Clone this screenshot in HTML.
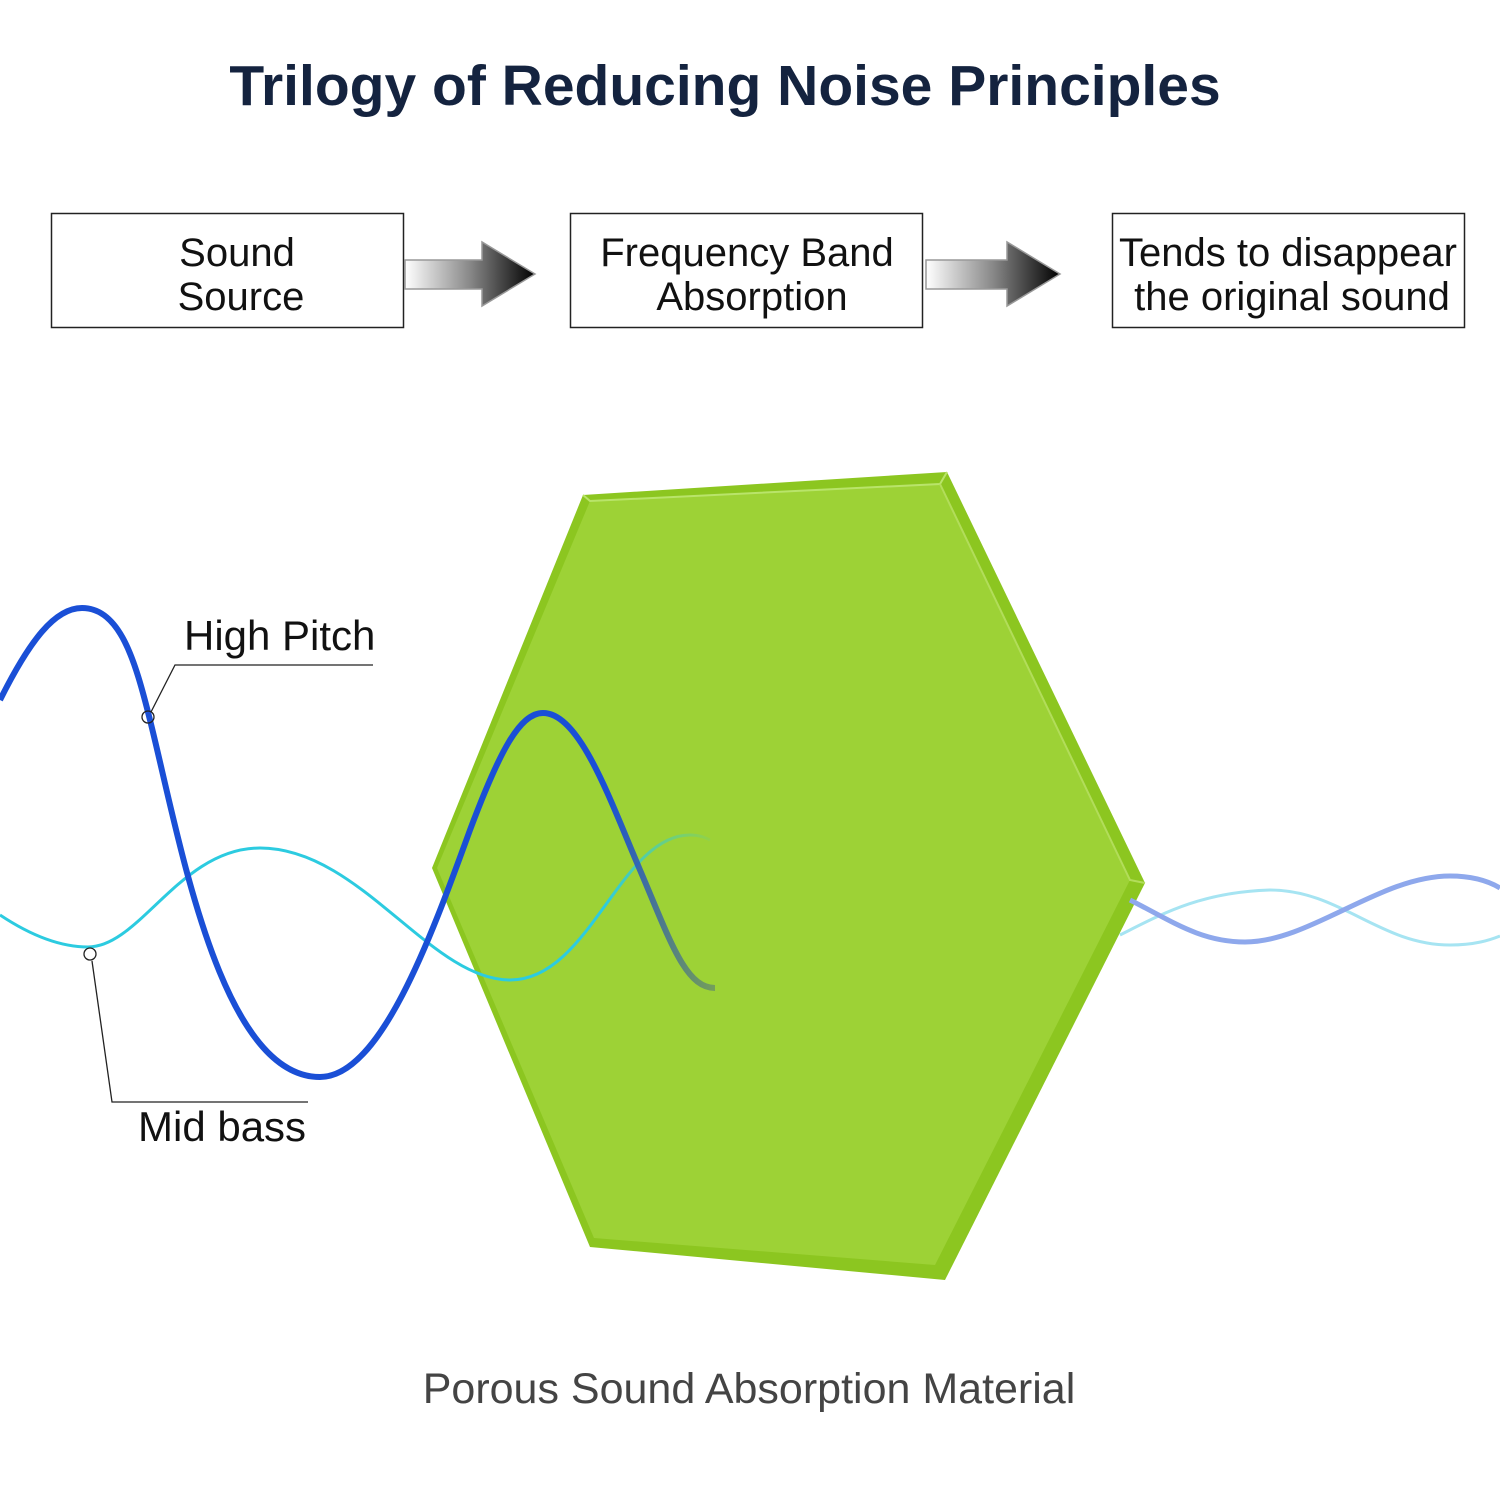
<!DOCTYPE html>
<html><head><meta charset="utf-8"><style>
html,body{margin:0;padding:0;background:#fff}
body{width:1500px;height:1500px;position:relative;overflow:hidden;font-family:"Liberation Sans",Arial,sans-serif}
</style></head><body>
<svg width="1500" height="1500" viewBox="0 0 1500 1500" xmlns="http://www.w3.org/2000/svg" style="position:absolute;left:0;top:0">
<defs>
<linearGradient id="ag" x1="0" x2="1" y1="0" y2="0">
<stop offset="0" stop-color="#fff"/><stop offset="0.5" stop-color="#888"/><stop offset="1" stop-color="#000"/>
</linearGradient>
<linearGradient id="bfade" gradientUnits="userSpaceOnUse" x1="0" x2="715" y1="0" y2="0">
<stop offset="0" stop-color="#1a4fd6"/><stop offset="0.85" stop-color="#1a4fd6"/><stop offset="1" stop-color="#4a6a80" stop-opacity="0.5"/>
</linearGradient>
<linearGradient id="cfade" gradientUnits="userSpaceOnUse" x1="0" x2="710" y1="0" y2="0">
<stop offset="0" stop-color="#2ccbe0"/><stop offset="0.85" stop-color="#2ccbe0"/><stop offset="1" stop-color="#2ccbe0" stop-opacity="0.1"/>
</linearGradient>
</defs>
<text x="725" y="105" text-anchor="middle" font-size="57" font-weight="bold" fill="#14233f" font-family="Liberation Sans, Arial, sans-serif">Trilogy of Reducing Noise Principles</text>

<rect x="51.5" y="213.5" width="352" height="114" fill="#fff" stroke="#222" stroke-width="1.5"/>
<rect x="570.5" y="213.5" width="352" height="114" fill="#fff" stroke="#222" stroke-width="1.5"/>
<rect x="1112.5" y="213.5" width="352" height="114" fill="#fff" stroke="#222" stroke-width="1.5"/>
<g font-size="40" fill="#111" text-anchor="middle">
<text x="237" y="266">Sound</text><text x="241" y="310">Source</text>
<text x="747" y="266">Frequency Band</text><text x="752" y="310">Absorption</text>
<text x="1288" y="266">Tends to disappear</text><text x="1292" y="310">the original sound</text>
</g>
<g stroke="#999" stroke-width="1.5">
<polygon points="405,260 482,260 482,242 535,274 482,306 482,289 405,289" fill="url(#ag)"/>
<polygon points="926,260 1007,260 1007,242 1060,274 1007,306 1007,289 926,289" fill="url(#ag)"/>
</g>

<polygon points="583,495 947,472 1145,883 945,1280 590,1247 432,868" fill="#8cc620"/>
<polygon points="590,501 940,484 1130,880 935,1265 594,1238 437,868" fill="#9dd236"/>
<polyline points="583,495 590,501 940,484 947,472" fill="none" stroke="#b9e46a" stroke-width="2"/>
<polyline points="940,484 1130,880 1145,883" fill="none" stroke="#b2dd5a" stroke-width="2"/>

<path d="M1120,935 C1160,915 1200,892 1270,890 C1340,890 1380,945 1450,945 C1475,945 1490,940 1500,936" fill="none" stroke="#a6e4f2" stroke-width="3"/>
<path d="M1130,900 C1170,920 1200,942 1245,942 C1310,942 1380,876 1450,876 C1475,876 1490,882 1500,888" fill="none" stroke="#8ea8ec" stroke-width="5"/>

<path d="M0,915 C30,935 60,947 88,947 C140,947 180,848 260,848 C360,848 430,980 510,980 C590,980 620,835 690,835 C700,835 706,838 710,840" fill="none" stroke="url(#cfade)" stroke-width="3"/>
<path d="M0,700 C30,640 55,608 82,608 C120,608 135,660 150,720 C180,840 220,1077 320,1077 C380,1077 430,940 470,830 C500,750 520,713 543,713 C580,713 610,800 640,870 C670,940 685,988 715,988" fill="none" stroke="url(#bfade)" stroke-width="6"/>

<g fill="none" stroke="#222" stroke-width="1.3">
<polyline points="151,712 175,665 373,665"/>
<circle cx="148" cy="717" r="6" fill="none"/>
<polyline points="92,961 112,1102 308,1102"/>
<circle cx="90" cy="954" r="6" fill="#fff"/>
</g>
<text x="184" y="650" font-size="42" fill="#111">High Pitch</text>
<text x="138" y="1141" font-size="42" fill="#111">Mid bass</text>

<text x="749" y="1403" text-anchor="middle" font-size="43" fill="#444">Porous Sound Absorption Material</text>
</svg>
</body></html>
